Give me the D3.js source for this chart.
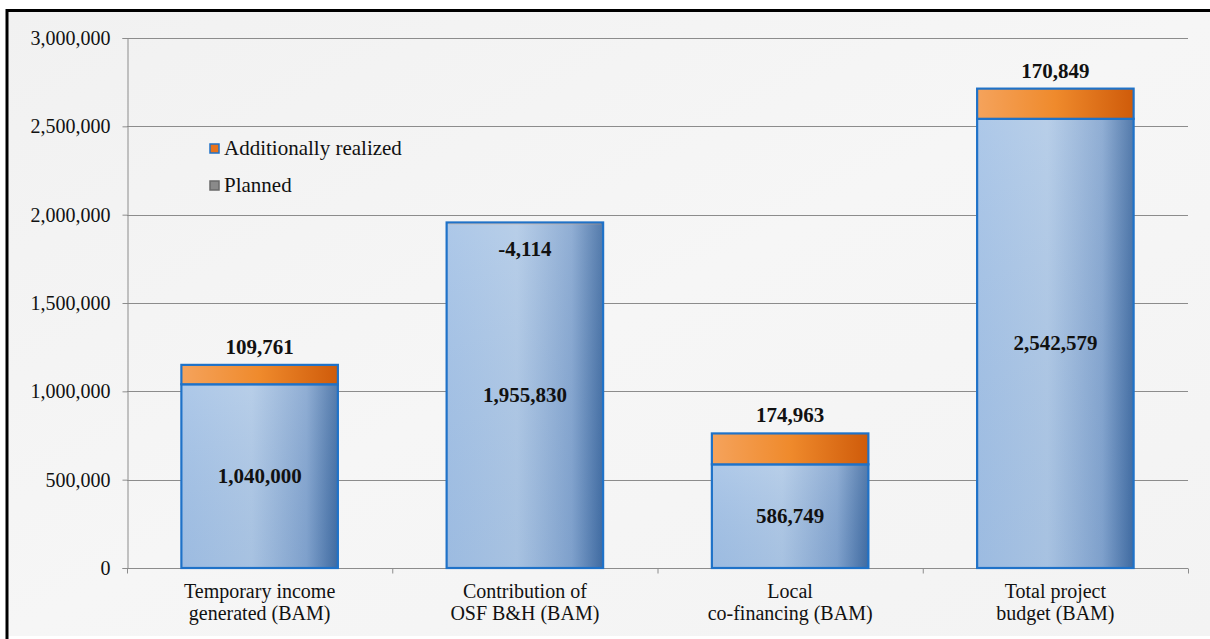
<!DOCTYPE html>
<html>
<head>
<meta charset="utf-8">
<script src="https://cdn.jsdelivr.net/npm/d3@7/dist/d3.min.js"></script>
<style>
  html, body { margin: 0; padding: 0; background: #ffffff; }
  svg { display: block; }
  svg text { font-family: "Times New Roman", "Liberation Serif", "DejaVu Serif", serif; fill: #111; }
</style>
</head>
<body>
<svg id="chart" width="1210" height="639"></svg>
<script>
// Project budget categories (two-line axis labels)
const categories = [
  ["Temporary income", "generated (BAM)"],
  ["Contribution of", "OSF B&H (BAM)"],
  ["Local", "co-financing (BAM)"],
  ["Total project", "budget (BAM)"]
];
const planned = [1040000, 1955830, 586749, 2542579];
const additional = [109761, -4114, 174963, 170849];
const yTicks = [0, 500000, 1000000, 1500000, 2000000, 2500000, 3000000];
const seriesNames = ["Additionally realized", "Planned"];

const svg = d3.select("#chart");
const W = 1210, H = 639;
const margin = { left: 127, right: 22, top: 38, bottom: 71 };
const serif = "'Times New Roman', 'Liberation Serif', 'DejaVu Serif', serif";
const fmt = v => d3.format(",")(v).replace("\u2212", "-");

const defs = svg.append("defs");

// Page background and chart frame
const bgGrad = defs.append("linearGradient").attr("id", "bgGrad")
  .attr("x1", 0).attr("y1", 0).attr("x2", 1).attr("y2", 1);
bgGrad.append("stop").attr("offset", "0%").attr("stop-color", "#f1f1f1");
bgGrad.append("stop").attr("offset", "50%").attr("stop-color", "#f6f6f6");
bgGrad.append("stop").attr("offset", "100%").attr("stop-color", "#f3f3f3");
svg.append("rect").attr("x", 0).attr("y", 0).attr("width", W).attr("height", H).attr("fill", "#fff");
svg.append("rect").attr("x", 7).attr("y", 11).attr("width", W - 7).attr("height", H - 14)
  .attr("fill", "url(#bgGrad)");
svg.append("path").attr("d", `M7,${H} V10.5 H${W}`)
  .attr("fill", "none").attr("stroke", "#000").attr("stroke-width", 3);

// Bar fills
const blueGrad = defs.append("linearGradient").attr("id", "blueGrad")
  .attr("x1", 0).attr("y1", 0).attr("x2", 1).attr("y2", 0);
blueGrad.append("stop").attr("offset", "0%").attr("stop-color", "#a4c2e6");
blueGrad.append("stop").attr("offset", "45%").attr("stop-color", "#b0c9e6");
blueGrad.append("stop").attr("offset", "80%").attr("stop-color", "#84a5cf");
blueGrad.append("stop").attr("offset", "100%").attr("stop-color", "#416ca2");
const blueShade = defs.append("linearGradient").attr("id", "blueShade")
  .attr("x1", 0).attr("y1", 0).attr("x2", 0).attr("y2", 1);
blueShade.append("stop").attr("offset", "0%").attr("stop-color", "#ffffff").attr("stop-opacity", 0.1);
blueShade.append("stop").attr("offset", "100%").attr("stop-color", "#1f4f8f").attr("stop-opacity", 0.06);
const orangeGrad = defs.append("linearGradient").attr("id", "orangeGrad")
  .attr("x1", 0).attr("y1", 0).attr("x2", 1).attr("y2", 0);
orangeGrad.append("stop").attr("offset", "0%").attr("stop-color", "#f5a35c");
orangeGrad.append("stop").attr("offset", "50%").attr("stop-color", "#ef8a2c");
orangeGrad.append("stop").attr("offset", "100%").attr("stop-color", "#cf5b0a");

const x = d3.scaleBand().domain(d3.range(categories.length))
  .range([margin.left, W - margin.right]).paddingInner(0.41).paddingOuter(0.205);
const y = d3.scaleLinear().domain([0, 3000000]).range([H - margin.bottom, margin.top]);

// Gridlines
svg.append("g").selectAll("line").data(yTicks.slice(1)).join("line")
  .attr("x1", margin.left).attr("x2", W - margin.right)
  .attr("y1", d => Math.round(y(d)) + 0.5).attr("y2", d => Math.round(y(d)) + 0.5)
  .attr("stroke", "#8c8c8c").attr("stroke-width", 1);

// Y axis
const yAxis = svg.append("g").attr("transform", `translate(${margin.left + 0.5},0)`)
  .call(d3.axisLeft(y).tickValues(yTicks).tickFormat(fmt).tickSize(5).tickPadding(12));
yAxis.attr("font-family", serif).attr("font-size", 20);
yAxis.select(".domain").attr("stroke", "#8c8c8c");
yAxis.selectAll(".tick line").attr("stroke", "#8c8c8c");
yAxis.selectAll("text").attr("fill", "#222");

// X axis baseline and category separators
const step = x.step();
const xBase = Math.round(y(0)) + 0.5;
svg.append("line").attr("x1", margin.left).attr("x2", W - margin.right)
  .attr("y1", xBase).attr("y2", xBase).attr("stroke", "#8c8c8c");
svg.append("g").selectAll("line").data(d3.range(categories.length + 1)).join("line")
  .attr("x1", i => margin.left + i * step + 0.5).attr("x2", i => margin.left + i * step + 0.5)
  .attr("y1", xBase).attr("y2", xBase + 5).attr("stroke", "#8c8c8c");

// Category labels
const catG = svg.append("g").attr("font-family", serif);
categories.forEach((lines, i) => {
  const cx = x(i) + x.bandwidth() / 2;
  const t = catG.append("text").attr("x", cx).attr("y", 598)
    .attr("text-anchor", "middle").attr("font-size", 20).attr("fill", "#222");
  lines.forEach((ln, j) => t.append("tspan").attr("x", cx)
    .attr("dy", j === 0 ? 0 : 22).text(ln));
});

// Stacked bars: planned segment, then additional segment on top
const bars = svg.append("g");
planned.forEach((p, i) => {
  const a = additional[i];
  const x0 = x(i), bw = x.bandwidth();
  const topP = y(p), topA = y(p + a);
  bars.append("rect").attr("x", x0).attr("y", topP).attr("width", bw).attr("height", y(0) - topP)
    .attr("fill", "url(#blueGrad)");
  bars.append("rect").attr("x", x0).attr("y", topP).attr("width", bw).attr("height", y(0) - topP)
    .attr("fill", "url(#blueShade)").attr("stroke", "#1f72c8").attr("stroke-width", 2.2);
  if (a > 0) {
    bars.append("rect").attr("x", x0).attr("y", topA).attr("width", bw).attr("height", topP - topA)
      .attr("fill", "url(#orangeGrad)").attr("stroke", "#1f72c8").attr("stroke-width", 2.2);
  } else {
    bars.append("rect").attr("x", x0 + 2).attr("y", topP + 1).attr("width", bw - 4).attr("height", Math.max(1, topA - topP))
      .attr("fill", "#f0a060").attr("opacity", 0.35);
  }
});

// Value labels
const labels = svg.append("g").attr("font-family", serif).attr("font-weight", "bold")
  .attr("font-size", 21).attr("text-anchor", "middle");
planned.forEach((p, i) => {
  const cx = x(i) + x.bandwidth() / 2;
  labels.append("text").attr("x", cx).attr("y", (y(0) + y(p)) / 2 + 7).text(fmt(p))
    .attr("fill", "#101828");
  const a = additional[i];
  const ly = a > 0 ? y(p + a) - 11 : y(p) + 34;
  labels.append("text").attr("x", cx).attr("y", ly).text(fmt(a)).attr("fill", "#111");
});

// Legend
const leg = svg.append("g").attr("transform", "translate(210,150)").attr("font-family", serif);
const legItems = [
  { name: seriesNames[0], fill: "#e8731c", stroke: "#1f72c8" },
  { name: seriesNames[1], fill: "#8a8a8a", stroke: "#6a6a6a" }
];
legItems.forEach((d, i) => {
  const g = leg.append("g").attr("transform", `translate(0,${i * 37})`);
  g.append("rect").attr("x", 0).attr("y", -6).attr("width", 9).attr("height", 9)
    .attr("fill", d.fill).attr("stroke", d.stroke).attr("stroke-width", 1.5);
  g.append("text").attr("x", 14).attr("y", 5).attr("font-size", 21).attr("fill", "#111").text(d.name);
});
</script>
</body>
</html>
